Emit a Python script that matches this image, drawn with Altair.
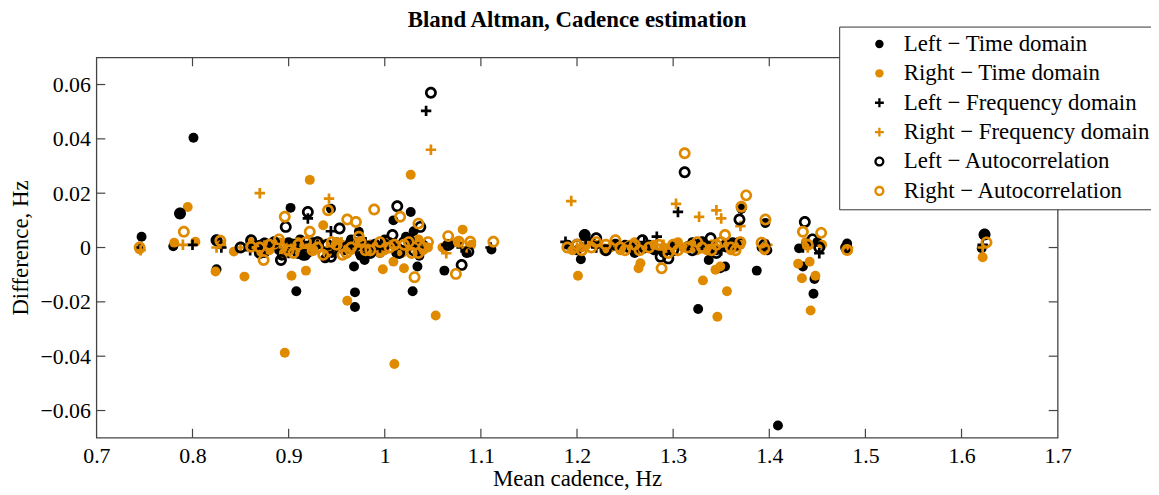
import altair as alt
import pandas as pd

TITLE = "Bland Altman, Cadence estimation"
SERIES = [
    "Left − Time domain",
    "Right − Time domain",
    "Left − Frequency domain",
    "Right − Frequency domain",
    "Left − Autocorrelation",
    "Right − Autocorrelation",
]
BLACK = "#000000"
ORANGE = "#e08a00"
# symbol shapes (unit square -1..1, scaled by sqrt(size)/2)
PLUS = "M-1.05,-0.27H1.05V0.27H-1.05Z M-0.27,-1.05H0.27V1.05H-0.27Z"
RING = ("M-1.2,0A1.2,1.2 0 1,0 1.2,0A1.2,1.2 0 1,0 -1.2,0Z "
        "M-0.66,0A0.66,0.66 0 1,1 0.66,0A0.66,0.66 0 1,1 -0.66,0Z")

# Left - Time domain (black filled)
lt_x = [0.747, 0.787, 0.801, 0.825, 0.826, 0.902, 0.908, 0.944, 0.968, 0.969, 0.969, 0.973, 0.979,
        1.009, 1.027, 1.029, 1.034, 1.062, 1.111, 1.204, 1.208, 1.326, 1.337, 1.349, 1.354, 1.371,
        1.387, 1.396, 1.409, 1.431, 1.435, 1.446, 1.447, 1.481, 1.621, 1.623,
        0.780, 0.860, 0.875, 0.885, 0.893, 0.905, 0.912, 0.920, 0.930, 0.938, 0.950, 0.958, 0.965,
        0.975, 0.985, 0.995, 1.005, 1.015, 1.022, 1.030, 1.036, 1.068, 1.085, 1.190, 1.215, 1.230,
        1.250, 1.260, 1.275, 1.290, 1.300, 1.315, 1.330, 1.345, 1.362, 1.392, 1.440, 1.450,
        0.870, 0.890, 0.900, 0.915, 0.925, 0.945, 0.955, 0.970, 0.990, 1.000, 1.012, 1.026, 1.040,
        1.200, 1.240, 1.280, 1.320, 1.355, 1.368, 1.398]
lt_y = [0.004, 0.0125, 0.0404, -0.008, 0.0025, 0.0146, -0.0161, 0.0143, -0.007, -0.0165, -0.0219, 0.0058, -0.0046,
        0.010, 0.0131, -0.0161, -0.007, -0.0085, -0.0007, -0.0043, 0.0046, -0.0226, -0.0046, -0.0076, -0.007, 0.0143,
        -0.0085, 0.009, -0.0655, -0.0003, -0.007, -0.017, -0.0116, 0.0015, -0.0003, 0.0046,
        0.0005, 0.001, -0.002, 0.002, -0.003, -0.001, 0.003, -0.002, 0.001, -0.004, 0.002, -0.001, 0.003,
        -0.003, 0.001, -0.002, 0.002, -0.001, 0.004, 0.006, -0.003, 0.001, -0.002, 0.001, 0.002, -0.001,
        0.001, -0.002, 0.001, -0.002, 0.001, 0.0005, 0.002, -0.001, 0.002, 0.0, 0.001, 0.002,
        0.001, -0.001, 0.002, -0.003, 0.002, -0.002, 0.001, 0.002, -0.001, 0.003, -0.002, 0.002, 0.001,
        -0.001, 0.001, -0.001, 0.002, 0.0, 0.002, -0.001]

# Right - Time domain (orange filled)
rt_x = [0.745, 0.781, 0.795, 0.803, 0.824, 0.843, 0.854, 0.896, 0.903, 0.918, 0.922, 0.936, 0.961,
        0.998, 1.009, 1.010, 1.020, 1.027, 1.053, 1.081, 1.201, 1.264, 1.266, 1.331, 1.344, 1.346,
        1.349, 1.356, 1.430, 1.434, 1.442, 1.443, 1.448, 1.622,
        0.830, 0.865, 0.880, 0.890, 0.900, 0.906, 0.914, 0.925, 0.932, 0.945, 0.955, 0.965, 0.972,
        0.980, 0.990, 1.000, 1.012, 1.025, 1.032, 1.040, 1.060, 1.075, 1.090, 1.195, 1.205, 1.220,
        1.235, 1.245, 1.255, 1.270, 1.280, 1.295, 1.310, 1.320, 1.335, 1.355, 1.365, 1.395, 1.438,
        1.455, 1.482,
        0.860, 0.870, 0.885, 0.895, 0.910, 0.920, 0.940, 0.950, 0.960, 0.985, 0.995, 1.005, 1.018,
        1.035, 1.045, 1.210, 1.228, 1.240, 1.260, 1.290, 1.305, 1.325, 1.340, 1.360, 1.370]
rt_y = [-0.0007, 0.0018, 0.0149, 0.0021, -0.0088, -0.0015, -0.0107, -0.0387, -0.0104, -0.0085, 0.0249, 0.0082, -0.0196,
        -0.008, -0.0052, -0.0429, -0.0076, 0.0268, -0.025, 0.0066, -0.0104, -0.0076, -0.0058, -0.0121, -0.0082, -0.0255,
        -0.007, -0.0161, -0.006, -0.0113, -0.0052, -0.0232, -0.0104, -0.0036,
        0.001, 0.0, -0.001, 0.002, 0.0, -0.001, 0.001, -0.001, 0.002, 0.0, 0.001, -0.001, 0.002,
        0.0, 0.001, -0.001, 0.001, 0.0, 0.002, -0.001, 0.0, 0.002, 0.001, -0.001, 0.0, 0.001,
        0.0, -0.001, 0.001, 0.0, 0.001, -0.001, 0.0, 0.001, -0.001, 0.001, 0.0, -0.001, 0.002,
        0.001, -0.001,
        0.002, -0.002, 0.001, -0.002, 0.002, 0.0, -0.002, 0.002, 0.0, 0.001, -0.002, 0.002, -0.002,
        0.003, 0.0, 0.001, -0.001, 0.001, 0.002, 0.0, 0.002, -0.001, 0.001, -0.001, 0.001]

# Left - Frequency domain (black plus)
lf_x = [0.787, 0.920, 0.944, 1.043, 1.064, 1.188, 1.209, 1.283, 1.305, 1.371, 1.452, 1.622,
        0.745, 0.800, 0.830, 0.860, 0.880, 0.900, 0.915, 0.930, 0.950, 0.965, 0.980, 0.995, 1.010,
        1.025, 1.035, 1.080, 1.110, 1.220, 1.240, 1.260, 1.270, 1.300, 1.330, 1.350, 1.360, 1.395,
        1.435, 1.480]
lf_y = [0.0125, 0.0107, 0.006, 0.0503, 0.001, 0.0021, 0.003, 0.004, 0.0131, 0.0143, -0.0021, 0.001,
        0.0, 0.001, 0.0, -0.001, 0.001, -0.002, 0.002, 0.001, -0.001, 0.001, 0.002, 0.0, 0.001,
        0.003, 0.0, 0.0, 0.0, 0.0, 0.001, -0.001, 0.002, 0.0, 0.001, -0.001, 0.0, 0.0,
        0.0, 0.0]

# Right - Frequency domain (orange plus)
rf_x = [0.870, 0.942, 1.048, 1.064, 1.194, 1.303, 1.327, 1.345, 1.350, 1.370,
        0.746, 0.790, 0.825, 0.850, 0.875, 0.895, 0.910, 0.925, 0.940, 0.955, 0.970, 0.985, 1.000,
        1.015, 1.030, 1.085, 1.200, 1.225, 1.250, 1.265, 1.290, 1.320, 1.340, 1.360, 1.398, 1.440,
        1.482, 1.622]
rf_y = [0.020, 0.018, 0.036, -0.0021, 0.0171, 0.0161, 0.0113, 0.0137, 0.0107, 0.0079,
        -0.001, 0.001, 0.0, 0.0, 0.001, 0.0, -0.001, 0.001, 0.0, 0.002, 0.0, -0.001, 0.001,
        0.0, 0.001, 0.0, 0.0, 0.001, 0.0, 0.0, 0.001, 0.0, 0.001, 0.0, 0.001, 0.0,
        0.0, 0.0]

# Left - Autocorrelation (black open circle)
la_x = [0.787, 0.825, 0.861, 0.875, 0.892, 0.897, 0.917, 0.920, 0.944, 0.953, 1.008, 1.013, 1.037,
        1.048, 1.066, 1.080, 1.087, 1.208, 1.220, 1.268, 1.287, 1.295, 1.312, 1.339, 1.369, 1.437,
        1.624,
        0.850, 0.905, 0.930, 0.960, 0.975, 0.990, 1.020, 1.030, 1.240, 1.255, 1.320, 1.355, 1.395,
        1.445, 1.452, 1.480,
        0.870, 0.885, 0.910, 0.940, 0.965, 0.985, 1.000, 1.015, 1.025, 1.200, 1.230, 1.270, 1.300,
        1.330, 1.345, 1.365]
la_y = [0.0125, 0.0027, 0.0027, 0.0015, -0.0046, 0.0076, -0.0027, 0.0131, -0.0034, 0.007, 0.0046, 0.0152, 0.0076,
        0.057, 0.0009, -0.0064, -0.0015, 0.0046, 0.0034, 0.0027, -0.0034, -0.004, 0.0277, 0.0034, 0.0103, 0.0094,
        0.0048,
        0.0, 0.001, 0.002, 0.0, -0.002, 0.001, 0.002, -0.001, 0.001, 0.0, -0.001, 0.001, 0.001,
        0.003, 0.0, 0.0,
        -0.002, 0.002, -0.002, 0.001, 0.002, -0.002, 0.001, -0.002, 0.003, 0.001, -0.001, 0.0, -0.001,
        0.002, -0.002, 0.001]

# Right - Autocorrelation (orange open circle)
ra_x = [0.745, 0.791, 0.829, 0.861, 0.874, 0.896, 0.922, 0.936, 0.941, 0.956, 0.961, 0.970, 0.973,
        0.989, 1.016, 1.031, 1.035, 1.066, 1.074, 1.077, 1.089, 1.113, 1.240, 1.288, 1.312, 1.354,
        1.371, 1.376, 1.392, 1.395, 1.396, 1.435, 1.454, 1.481, 1.626,
        0.880, 0.900, 0.910, 0.930, 0.945, 0.965, 0.980, 0.995, 1.005, 1.020, 1.028, 1.040, 1.190,
        1.200, 1.215, 1.230, 1.250, 1.260, 1.275, 1.300, 1.315, 1.330, 1.345, 1.365, 1.440,
        0.870, 0.890, 0.905, 0.918, 0.925, 0.950, 0.960, 0.975, 0.985, 1.010, 1.025, 1.035, 1.045,
        1.205, 1.220, 1.245, 1.265, 1.285, 1.295, 1.305, 1.325, 1.340, 1.350, 1.360, 1.370]
ra_y = [0.0, 0.0058, 0.0025, 0.0003, -0.0046, 0.0113, 0.0058, -0.0027, 0.0137, -0.0027, 0.0103, 0.0094, 0.004,
        0.014, 0.0113, -0.0109, 0.0088, 0.0042, -0.0097, 0.0021, 0.0021, 0.0021, 0.0027, -0.0076, 0.0347, 0.0046,
        0.015, 0.0192, 0.0018, -0.0003, 0.0103, 0.0058, 0.0054, -0.0009, 0.0019,
        0.001, -0.001, 0.001, 0.0, 0.002, 0.0, -0.001, 0.002, 0.0, 0.001, -0.002, 0.0, 0.0,
        0.001, 0.0, 0.001, -0.001, 0.001, 0.0, 0.001, 0.0, 0.0, 0.001, -0.001, 0.001,
        0.0, 0.003, -0.002, 0.002, -0.001, 0.001, -0.002, 0.002, -0.001, 0.001, 0.002, -0.002, 0.002,
        -0.001, 0.002, 0.0, -0.001, 0.001, -0.002, -0.001, 0.002, -0.001, 0.002, 0.0, 0.002]

x_ticks = [0.8, 0.9, 1.0, 1.1, 1.2, 1.3, 1.4, 1.5, 1.6]
y_ticks = [-0.06, -0.04, -0.02, 0.0, 0.02, 0.04, 0.06]
x_labels = [0.7, 0.8, 0.9, 1.0, 1.1, 1.2, 1.3, 1.4, 1.5, 1.6, 1.7]

frames = []
for name, xs, ys in zip(SERIES, [lt_x, rt_x, lf_x, rf_x, la_x, ra_x], [lt_y, rt_y, lf_y, rf_y, la_y, ra_y]):
    frames.append(pd.DataFrame({"series": name, "x": xs, "y": ys}))
df = pd.concat(frames, ignore_index=True)
df["order"] = range(len(df))

W, H = 968, 383
FONT = "Liberation Serif"
AX = "#444444"

xscale = alt.Scale(domain=[0.7, 1.7], nice=False, zero=False)
yscale = alt.Scale(domain=[-0.07, 0.07], nice=False, zero=False)

xaxis = alt.Axis(values=x_labels, format="~g", title="Mean cadence, Hz", labelFlush=False,
                 labelOverlap=False, labelPadding=8, titleY=48, titleBaseline="alphabetic")
yaxis = alt.Axis(values=y_ticks, format="~g", title="Difference, Hz", labelPadding=6,
                 titleX=-69, titleBaseline="alphabetic", labelOverlap=False)

legend = alt.Legend(
    title=None, orient="none", legendX=748, legendY=-31, direction="vertical",
    fillColor="white", strokeColor="#333333", padding=6, rowPadding=5.6,
    labelFont=FONT, labelFontSize=23, labelColor="black", labelLimit=600,
    symbolOffset=23, labelOffset=13, symbolSize=72, symbolStrokeWidth=0,
)

points = alt.Chart(df).mark_point(filled=True, opacity=1, size=100, strokeWidth=0).encode(
    x=alt.X("x:Q", scale=xscale, axis=xaxis),
    y=alt.Y("y:Q", scale=yscale, axis=yaxis),
    color=alt.Color("series:N", scale=alt.Scale(domain=SERIES, range=[BLACK, ORANGE, BLACK, ORANGE, BLACK, ORANGE]), legend=legend),
    shape=alt.Shape("series:N", scale=alt.Scale(domain=SERIES, range=["circle", "circle", PLUS, PLUS, RING, RING]), legend=legend),
    order=alt.Order("order:Q"),
)

xt = pd.DataFrame({"x": x_ticks})
yt = pd.DataFrame({"y": y_ticks})

tick_bottom = alt.Chart(xt).mark_rule(color=AX, strokeWidth=1.2).encode(
    x=alt.X("x:Q", scale=xscale, axis=xaxis), y=alt.value(H), y2=alt.value(H - 9))
tick_top = alt.Chart(xt).mark_rule(color=AX, strokeWidth=1.2).encode(
    x=alt.X("x:Q", scale=xscale, axis=xaxis), y=alt.value(0), y2=alt.value(9))
tick_left = alt.Chart(yt).mark_rule(color=AX, strokeWidth=1.2).encode(
    y=alt.Y("y:Q", scale=yscale, axis=yaxis), x=alt.value(0), x2=alt.value(9))
tick_right = alt.Chart(yt).mark_rule(color=AX, strokeWidth=1.2).encode(
    y=alt.Y("y:Q", scale=yscale, axis=yaxis), x=alt.value(W), x2=alt.value(W - 9))

title_text = alt.Chart(pd.DataFrame({"t": [TITLE]})).mark_text(
    font=FONT, fontSize=23, fontWeight="bold", color="black", align="center", baseline="alphabetic",
).encode(text="t:N", x=alt.value(W / 2), y=alt.value(-31))

chart = alt.layer(tick_bottom, tick_top, tick_left, tick_right, points, title_text).properties(
    width=W, height=H,
    autosize=alt.AutoSizeParams(type="none"),
    padding={"left": 89, "top": 48, "right": 94, "bottom": 56},
    background="white",
).configure_view(stroke=AX, strokeWidth=1.3).configure_axis(
    domain=False, ticks=False, tickSize=0, grid=False, labelFont=FONT, labelFontSize=22, labelColor="black",
    titleFont=FONT, titleFontSize=23, titleFontWeight="normal", titleColor="black",
)

chart.save("out.html", embed_options={"renderer": "svg", "actions": False})
